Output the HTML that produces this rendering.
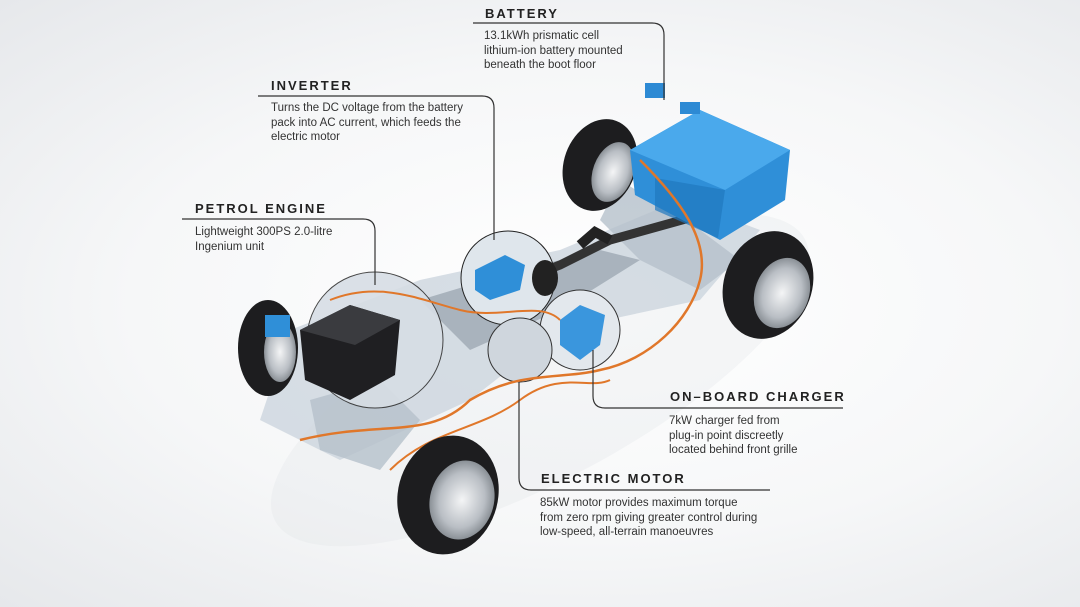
<!DOCTYPE html>
<html><head><meta charset="utf-8"><style>
html,body{margin:0;padding:0;width:1080px;height:607px;overflow:hidden}
body{position:relative;font-family:"Liberation Sans",sans-serif;
background:radial-gradient(ellipse at 55% 50%,#ffffff 0%,#f6f7f8 55%,#e6e8eb 100%);}
.t{position:absolute;font-weight:bold;font-size:13px;letter-spacing:2px;color:#222}
.d{position:absolute;font-size:11.5px;line-height:14.5px;color:#333}
svg{position:absolute;left:0;top:0;display:block}
</style></head><body>
<svg width="1080" height="607" viewBox="0 0 1080 607">
<defs>
<radialGradient id="rim" cx="50%" cy="50%" r="50%"><stop offset="0" stop-color="#f4f5f6"/><stop offset="0.7" stop-color="#b9bec4"/><stop offset="1" stop-color="#8a9096"/></radialGradient>
</defs>
<ellipse cx="540" cy="380" rx="300" ry="100" fill="#dde1e5" opacity="0.25" transform="rotate(-28 540 380)"/>
<!-- chassis -->
<polygon points="290,330 420,280 560,250 680,200 760,230 700,300 560,330 470,400 340,460 260,420" fill="#c9d3dc" opacity="0.75"/>
<polygon points="620,180 700,230 740,260 700,290 640,260 600,220" fill="#b5c0ca" opacity="0.8"/>
<polygon points="420,300 520,270 600,250 640,260 560,310 470,350" fill="#a9b3bd"/>
<polygon points="310,400 380,380 420,420 380,470 320,450" fill="#b5c0ca" opacity="0.8"/>
<path d="M470,300 L560,265 L610,240 L700,215" stroke="#333" stroke-width="9" fill="none"/>
<path d="M580,245 L595,232 L610,240" stroke="#222" stroke-width="10" fill="none"/>
<!-- rear wheels -->
<ellipse cx="600" cy="165" rx="36" ry="47" fill="#1d1d1f" transform="rotate(20 600 165)"/>
<ellipse cx="613" cy="172" rx="20" ry="31" fill="url(#rim)" transform="rotate(20 613 172)"/>
<ellipse cx="768" cy="285" rx="44" ry="55" fill="#1d1d1f" transform="rotate(20 768 285)"/>
<ellipse cx="782" cy="293" rx="27" ry="36" fill="url(#rim)" transform="rotate(20 782 293)"/>
<!-- battery -->
<polygon points="630,150 700,110 790,150 785,200 720,240 635,195" fill="#2f8fd8"/>
<polygon points="630,150 700,110 790,150 725,190" fill="#4aa9ec"/>
<polygon points="655,178 725,190 718,238 655,210" fill="#1f77bf" opacity="0.7"/>
<rect x="645" y="83" width="20" height="15" fill="#2d8ad4"/>
<rect x="680" y="102" width="20" height="12" fill="#2d8ad4"/>
<!-- inverter circle -->
<circle cx="508" cy="278" r="47" fill="#dfe6ec" stroke="#222" stroke-width="1"/>
<polygon points="475,270 505,255 525,265 520,290 490,300 475,290" fill="#2f8fd8"/>
<ellipse cx="545" cy="278" rx="13" ry="18" fill="#222"/>
<!-- charger circle -->
<circle cx="580" cy="330" r="40" fill="#e3e8ed" stroke="#333" stroke-width="1"/>
<polygon points="560,320 580,305 605,315 600,345 580,360 560,345" fill="#3a96dd"/>
<!-- motor circle -->
<circle cx="520" cy="350" r="32" fill="#cfd6dd" stroke="#333" stroke-width="1"/>
<!-- engine circle -->
<circle cx="375" cy="340" r="68" fill="#d7dee5" stroke="#333" stroke-width="1" opacity="0.9"/>
<!-- back front wheel -->
<ellipse cx="268" cy="348" rx="30" ry="48" fill="#1d1d1f"/>
<ellipse cx="280" cy="352" rx="16" ry="30" fill="url(#rim)"/>
<!-- engine -->
<polygon points="300,330 350,305 400,320 395,375 350,400 305,380" fill="#1f1f22"/>
<polygon points="300,330 350,305 400,320 355,345" fill="#3a3b3f"/>
<rect x="265" y="315" width="25" height="22" fill="#2f8fd8"/>
<!-- orange cables -->
<path d="M300,440 C380,420 430,440 470,400 C520,370 560,380 600,370 C650,360 690,320 700,280 C710,240 680,200 640,160" stroke="#e0772a" stroke-width="2.5" fill="none"/>
<path d="M330,300 C380,280 420,300 460,310 C500,320 540,300 560,320" stroke="#e0772a" stroke-width="2" fill="none"/>
<path d="M390,470 C430,430 480,430 520,400 C560,370 590,390 610,380" stroke="#e0772a" stroke-width="2" fill="none"/>
<!-- front wheel -->
<ellipse cx="448" cy="495" rx="50" ry="60" fill="#1d1d1f" transform="rotate(15 448 495)"/>
<ellipse cx="462" cy="500" rx="32" ry="40" fill="url(#rim)" transform="rotate(15 462 500)"/>
<!-- leader lines -->
<g stroke="#333" stroke-width="1.2" fill="none">
<path d="M473,23 H652 Q664,23 664,35 V100"/>
<path d="M258,96 H482 Q494,96 494,108 V240"/>
<path d="M182,219 H363 Q375,219 375,231 V285"/>
<path d="M593,350 V396 Q593,408 605,408 H843"/>
<path d="M519,382 V478 Q519,490 531,490 H770"/>
</g>
</svg>
<div class="t" style="left:485px;top:6px">BATTERY</div>
<div class="d" style="left:484px;top:29px">13.1kWh prismatic cell<br>lithium-ion battery mounted<br>beneath the boot floor</div>
<div class="t" style="left:271px;top:78px">INVERTER</div>
<div class="d" style="left:271px;top:101px">Turns the DC voltage from the battery<br>pack into AC current, which feeds the<br>electric motor</div>
<div class="t" style="left:195px;top:201px">PETROL ENGINE</div>
<div class="d" style="left:195px;top:225px">Lightweight 300PS 2.0-litre<br>Ingenium unit</div>
<div class="t" style="left:670px;top:389px">ON–BOARD CHARGER</div>
<div class="d" style="left:669px;top:414px">7kW charger fed from<br>plug-in point discreetly<br>located behind front grille</div>
<div class="t" style="left:541px;top:471px">ELECTRIC MOTOR</div>
<div class="d" style="left:540px;top:496px">85kW motor provides maximum torque<br>from zero rpm giving greater control during<br>low-speed, all-terrain manoeuvres</div>
</body></html>
